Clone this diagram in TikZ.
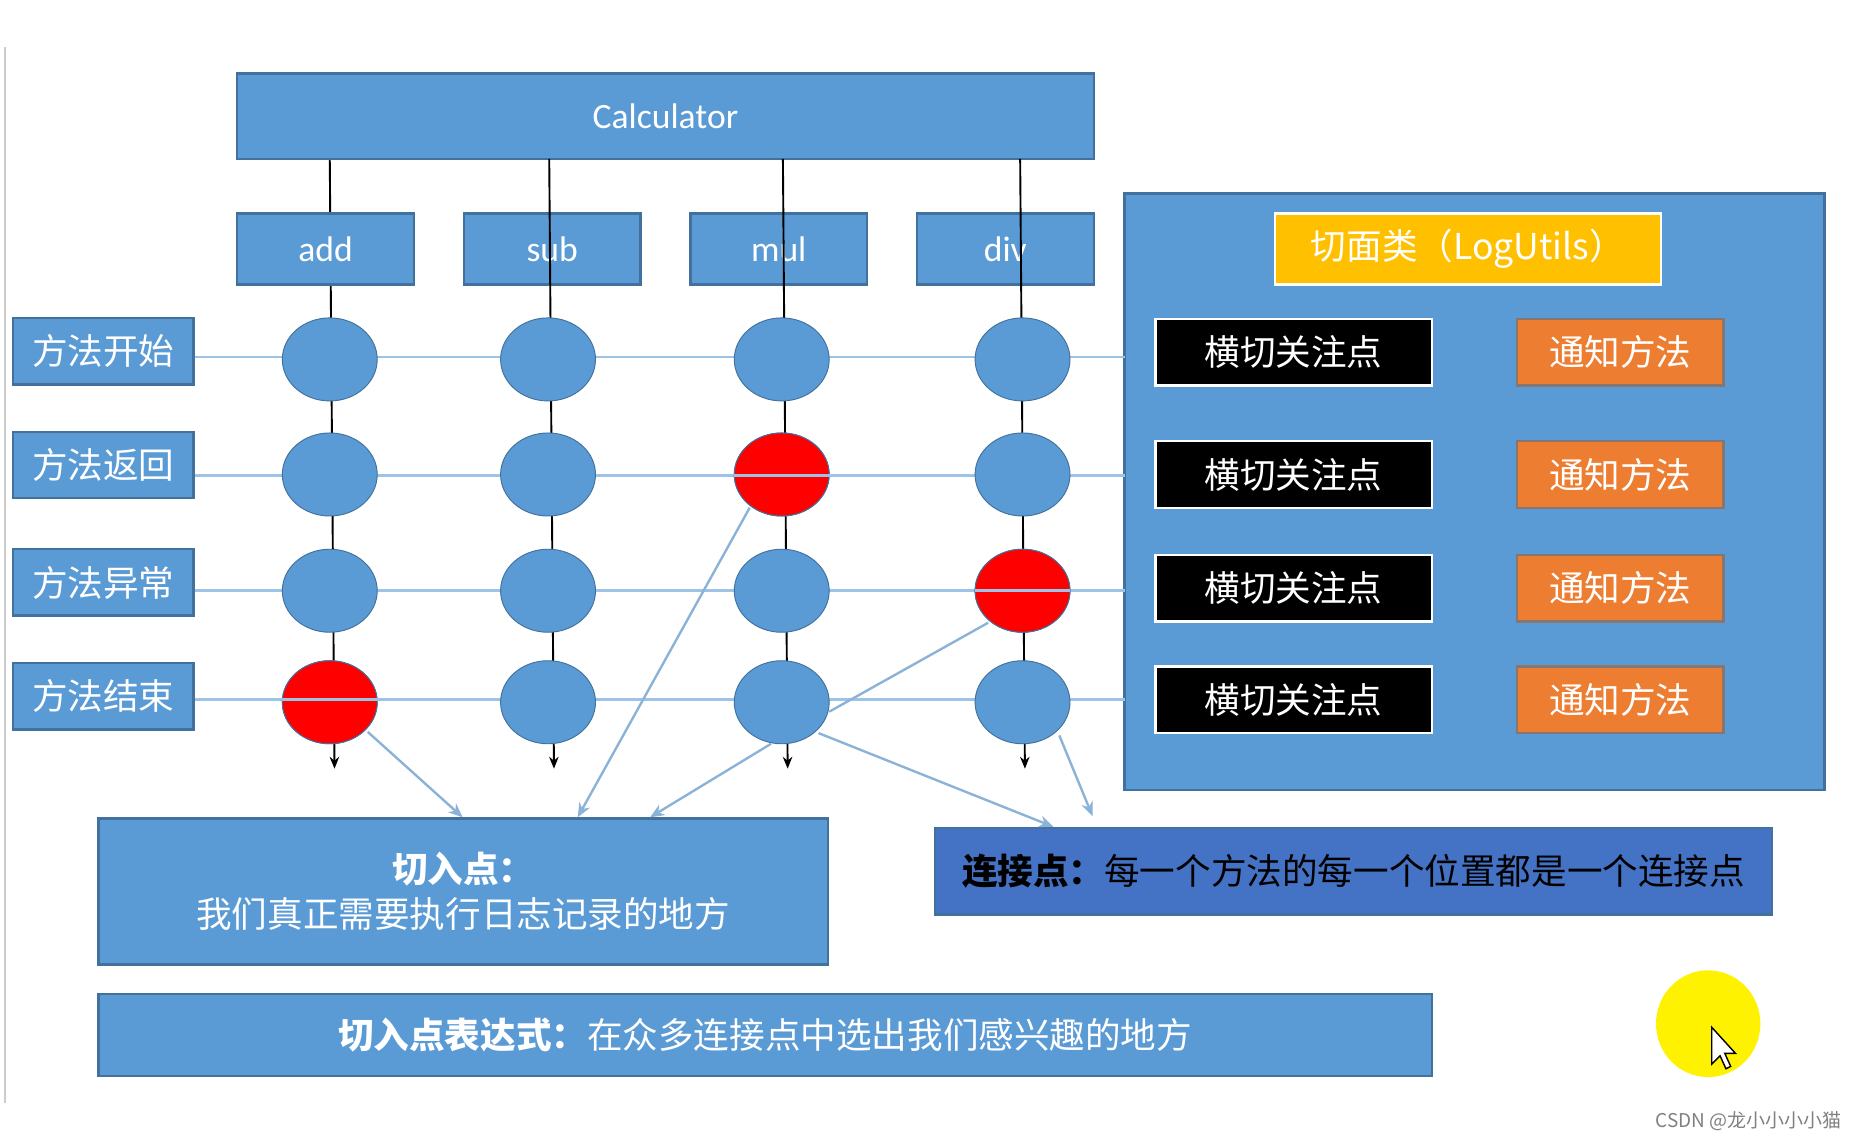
\documentclass[tikz,border=0pt]{standalone}
\usepackage{fontspec}
\setmainfont{Carlito}
\newfontfamily\cjk{Noto Sans CJK SC}
\usetikzlibrary{arrows.meta,shapes.geometric}
\definecolor{bl}{HTML}{5B9BD5}
\definecolor{bd}{HTML}{41719C}
\definecolor{lb}{HTML}{9DC3E6}
\definecolor{og}{HTML}{ED7D31}
\definecolor{yl}{HTML}{FFC000}
\definecolor{db}{HTML}{4472C4}
\begin{document}
\begin{tikzpicture}[x=0.5pt,y=-0.5pt,
 box/.style={draw=bd,line width=1pt,fill=bl,text=white,font=\fontsize{15}{17}\selectfont},
 lab/.style={box,font=\cjk\fontsize{15}{17}\selectfont},
 cir/.style={ellipse,draw=bd,fill=bl,minimum width=40pt,minimum height=35pt,inner sep=0pt},
 red/.style={cir,fill=red},
 hl/.style={lb,line width=1.2pt},
 vl/.style={black,line width=0.8pt,-{Stealth[length=5pt,width=4pt]}},
 ar/.style={lb!80!bd,line width=1pt,-{Stealth[length=6pt,width=5pt]}},
 blk/.style={draw=white,line width=1pt,fill=black,text=white,minimum width=116.5pt,minimum height=28pt,font=\cjk\fontsize{15}{17}\selectfont},
 ora/.style={draw=bd!60!og,line width=1pt,fill=og,text=white,minimum width=87pt,minimum height=28pt,font=\cjk\fontsize{15}{17}\selectfont}]
\useasboundingbox (0,0) rectangle (1568,961);
\fill[white] (0,0) rectangle (1568,961);
\draw[gray!40,line width=1pt] (4,40) -- (4,930);
% vertical lines (behind)
\coordinate (va) at (282,648); \coordinate (vb) at (467,648);
\coordinate (vc) at (664,648); \coordinate (vd) at (864,648);
\draw[vl] (278,134) -- (va);
% Calculator
\node[box,minimum width=361pt,minimum height=36pt] (calc) at (561,98) {Calculator};
\node[box,minimum width=74.5pt,minimum height=30pt] (add) at (274.5,210) {add};
\node[box,minimum width=74.5pt,minimum height=30pt] (sub) at (465.5,210) {sub};
\node[box,minimum width=74.5pt,minimum height=30pt] (mul) at (656.5,210) {mul};
\node[box,minimum width=74.5pt,minimum height=30pt] (div) at (847.5,210) {div};
\draw[vl] (463,134) -- (vb);
\draw[vl] (660,134) -- (vc);
\draw[vl] (860,134) -- (vd);
% right panel
\node[box,minimum width=295pt,minimum height=251.5pt] (panel) at (1243,414.5) {};
\node[draw=white,line width=1pt,fill=yl,text=white,minimum width=162.5pt,minimum height=30pt,font=\cjk\fontsize{15}{17}\selectfont] (asp) at (1237.5,210) {切面类（LogUtils）};
% rows
\foreach \n/\t/\y in {r1/方法开始/296,r2/方法返回/392,r3/方法异常/491,r4/方法结束/587}
  \node[lab,minimum width=76pt,minimum height=28pt] (\n) at (87,\y) {\t};
\coordinate (e1) at (948,301); \coordinate (e2) at (948,401);
\coordinate (e3) at (948,498); \coordinate (e4) at (948,590);
\foreach \i/\y in {1/301,2/401,3/498,4/590}
  \draw[hl] (r\i.east |- 0,\y) -- (e\i);
% circles
\foreach \c/\x in {a/278,b/462,c/659,d/862}{
  \foreach \i/\y in {1/303,2/400,3/498,4/592}
    \node[cir] (\c\i) at (\x,\y) {};
}
\node[red] at (c2) {}; \node[red] at (d3) {}; \node[red] at (a4) {};
\draw[hl] (c2.west |- 0,401) -- (c2.east |- 0,401);
\draw[hl] (d3.west |- 0,498) -- (d3.east |- 0,498);
\draw[hl] (a4.west |- 0,590) -- (a4.east |- 0,590);
% black / orange boxes
\foreach \i/\y in {1/297,2/400,3/496,4/590}{
  \node[blk] (k\i) at (1090.5,\y) {横切关注点};
  \node[ora] (o\i) at (1366,\y) {通知方法};
}
% bottom boxes
\node[box,minimum width=307.5pt,minimum height=61.5pt,align=center,font=\cjk\fontsize{15}{19}\selectfont] (cut) at (390.5,751.5) {\textbf{切入点：}\\我们真正需要执行日志记录的地方};
\node[draw=bd,line width=1pt,fill=db,minimum width=353pt,minimum height=36.5pt,font=\cjk\fontsize{15}{17}\selectfont] (jp) at (1141,734.5) {\textbf{连接点：}每一个方法的每一个位置都是一个连接点};
\node[box,minimum width=562pt,minimum height=34.5pt,font=\cjk\fontsize{15}{17}\selectfont] (expr) at (645,872.5) {\textbf{切入点表达式：}在众多连接点中选出我们感兴趣的地方};
% arrows
\draw[ar] (a4) ++(32,25) -- (cut.north -| 390,0);
\draw[ar] (c2) ++(-27,28) -- (cut.north -| 487,0);
\draw[ar] (c4) ++(-9,35) -- (cut.north -| 548,0);
\draw[lb!80!bd,line width=1pt] (c4) ++(40,8) -- ++(134,-75);
\draw[ar] (c4) ++(31,26) -- (jp.north -| 888,0);
\draw[ar] (d4) ++(31,28) -- (921,688);
% cursor
\node[ellipse,fill=yellow,minimum width=44pt,minimum height=45pt] (sun) at (1440,863) {};
\draw[fill=white,line width=0.6pt] (1443,866) -- (1443,897) -- (1450,890) -- (1455,901) -- (1459,899) -- (1454,888) -- (1463,888) -- cycle;
\node[text=gray,font=\cjk\fontsize{8}{9}\selectfont] (wm) at (1474,945) {CSDN @龙小小小小猫};
\end{tikzpicture}
\end{document}
